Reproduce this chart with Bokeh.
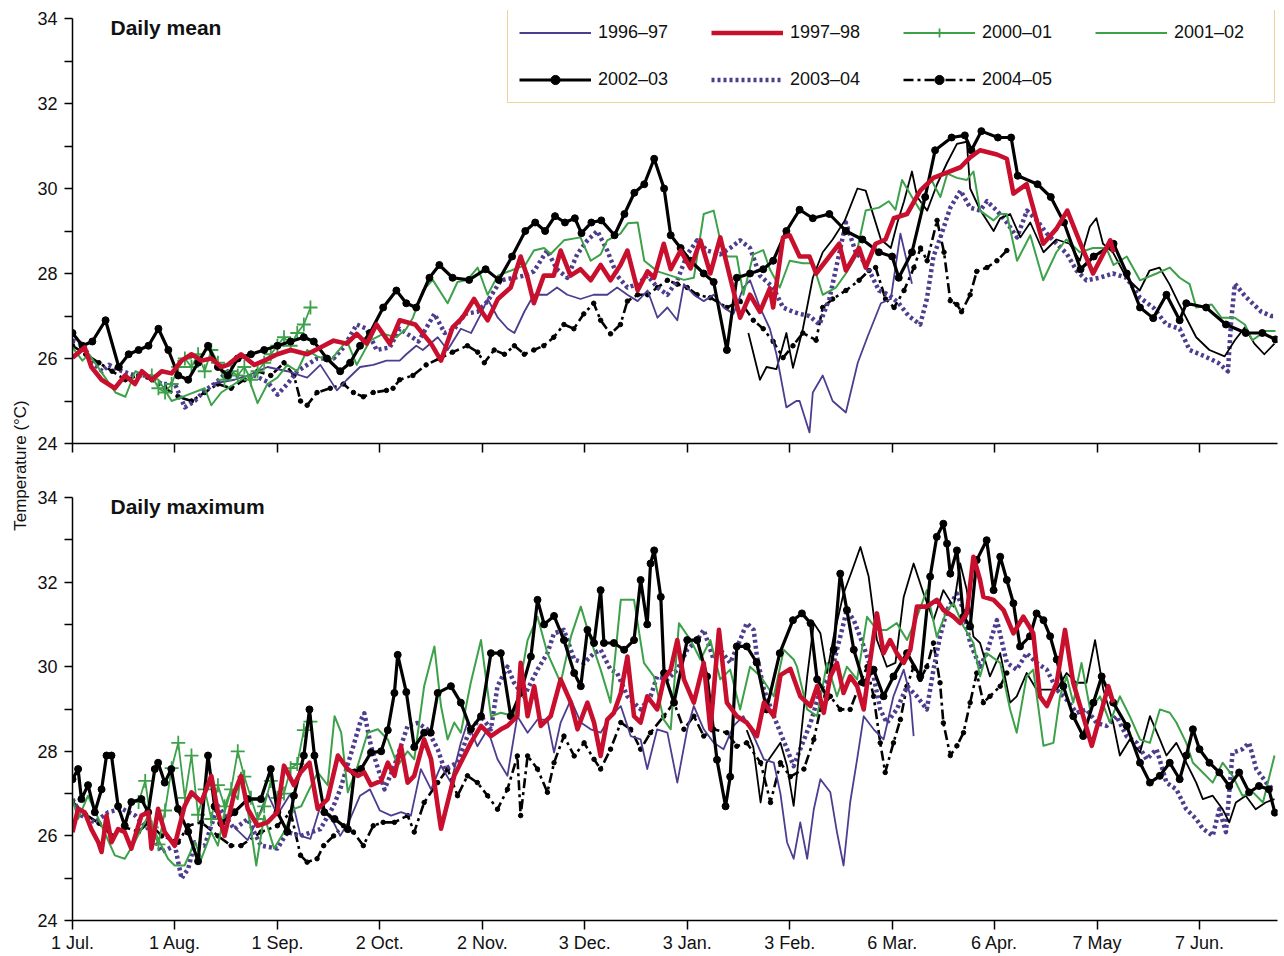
import math
from bokeh.plotting import figure
from bokeh.models import Range1d, FixedTicker, Legend, LegendItem, Label
from bokeh.layouts import row, column
from bokeh.embed import file_html
from bokeh.resources import INLINE

# ---------------- data (day since 1 Jul, temperature °C) ----------------
TICK_DAYS = [0, 31, 62, 93, 124, 155, 186, 217, 248, 279, 310, 341]
TICK_LABELS = ["1 Jul.", "1 Aug.", "1 Sep.", "2 Oct.", "2 Nov.", "3 Dec.",
               "3 Jan.", "3 Feb.", "6 Mar.", "6 Apr.", "7 May", "7 Jun."]
Y_TICKS = [24, 26, 28, 30, 32, 34]
Y_MINOR = [25, 27, 29, 31, 33]
SERIES = ["1996–97", "1997–98", "2000–01", "2001–02", "2002–03", "2003–04", "2004–05"]

# ---- Daily mean ----
MEAN_1996_97 = [(42,25.4),(49,25.5),(53,25.6),(59,25.8),(65,25.7),(71,25.55),(75,25.85),(80,25.25),(83,25.5),(87,25.8),(91,25.85),(95,25.95),(99,25.95),(101,26.1),(104,26.3),(106,26.2),(110.5,26.5),(113.5,26.2),(117.5,26.7),(120.6,26.6),(123.6,27.05),(125.6,27.4),(128.7,26.96),(131.7,26.7),(133.7,26.6),(136.7,27.1),(139.6,27.5),(143.6,27.5),(146.6,27.67),(149.7,27.5),(153.7,27.4),(157.7,27.5),(161.8,27.5),(164.8,27.67),(167.9,27.5),(171,27.35),(174,27.6),(177,26.96),(180,27.2),(183,26.9),(185,27.75),(188,27.5),(191,27.35),(194,27.5),(197,27.2),(200,27.05),(203,27.67),(205,27.84),(208,27.2),(211,26.7),(213,26.1),(216,24.85),(219,25.0),(220,25.0),(223,24.26),(224,25.2),(227,25.6),(230,25.0),(234,24.73),(237.6,25.9),(240.5,26.5),(244.6,27.3),(247.6,27.4),(250.5,28.94),(254,27.76)]
MEAN_1997_98 = [(0,26.02),(3.7,26.26),(5.7,25.8),(8.8,25.5),(12.8,25.3),(15.9,25.6),(18.9,25.4),(21,25.7),(24,25.5),(27,25.7),(30,25.65),(33,25.95),(36,26.1),(39,25.95),(42,26.0),(45,25.8),(47,25.85),(51,26.1),(55,25.85),(58,25.95),(62,26.1),(66,26.2),(71,26.1),(75,26.26),(79,26.42),(83,26.35),(86,26.58),(89,26.35),(92,26.8),(96,26.35),(99,26.9),(103.7,26.8),(108.5,26.35),(111.5,25.95),(115,26.73),(118,26.96),(121.5,27.4),(123,27.2),(125.6,26.9),(128.7,27.4),(132.6,27.67),(135.6,28.4),(137.7,27.9),(139.6,27.3),(142.6,27.95),(145.6,27.95),(147.7,28.54),(150.7,27.95),(153.7,28.1),(156.8,27.84),(159.8,28.2),(162.8,27.84),(165.8,28.2),(167.9,28.54),(171,27.6),(174,28.05),(176,27.9),(178.9,28.7),(181,28.1),(184,28.54),(187,28.12),(190,28.78),(193,28.0),(196,28.85),(199,27.9),(202,26.96),(205,27.5),(208,27.1),(211,27.65),(212,27.2),(215,28.85),(217,28.9),(220,28.4),(223,28.4),(225,28.0),(229,28.4),(232,28.7),(234,28.07),(238,28.6),(240,28.14),(243,28.7),(246,28.8),(248.5,29.3),(252.5,29.4),(256.5,29.95),(260.5,30.25),(264.7,30.38),(268.7,30.5),(271.6,30.73),(274.6,30.9),(279.7,30.8),(282.7,30.7),(284.7,29.88),(288.7,30.1),(293.7,28.7),(297.7,29.05),(301,29.48),(305,28.7),(308.8,28.0),(314,28.78),(315,28.5)]
MEAN_2000_01 = [(24,25.6),(26,25.3),(28,25.2),(30,25.4),(32,25.8),(34,26.0),(36,25.8),(38,26.1),(40,25.7),(42,26.2),(44,25.9),(46,25.5),(48,25.7),(50,25.6),(52,25.8),(54,25.5),(56,25.7),(58,25.9),(60,26.1),(62,26.3),(64,26.5),(66,26.3),(68,26.6),(70,26.8),(72,27.2)]
MEAN_2001_02 = [(0,26.26),(3,25.95),(5,26.1),(9,25.65),(13,25.2),(16,25.1),(19,25.7),(22,25.6),(26,25.5),(30,25.0),(35,25.15),(40,25.3),(42,24.9),(45,25.2),(49,25.4),(53,25.6),(56,24.95),(59,25.4),(62,25.55),(65,25.85),(68,25.7),(71,26.2),(74,26.05),(78,25.95),(83,26.42),(86,25.85),(90,26.42),(94,26.58),(98,26.5),(101,26.7),(103,26.96),(106,27.6),(109,27.85),(113.5,27.3),(116.5,27.8),(119.5,27.85),(122.6,28.14),(125.6,27.5),(128.7,27.95),(133.7,28.1),(137,28.2),(139.6,28.54),(142.7,28.6),(144.7,28.46),(148.7,28.78),(153.7,28.85),(156.8,28.3),(159.8,28.45),(161.8,28.78),(165.8,28.94),(168,29.18),(171,29.2),(173,28.3),(177,28.05),(181,27.95),(185,27.85),(188,27.9),(191,29.4),(194,29.48),(196,28.78),(198,28.4),(201,28.4),(203,27.5),(206,28.45),(209,28.55),(211,28.1),(214,27.67),(217,28.3),(221,28.24),(224,28.24),(227,27.5),(231,27.67),(234,28.0),(237,28.4),(240,29.48),(244,29.55),(247,29.7),(249,29.5),(251,30.2),(254,29.8),(256.5,29.48),(259.5,30.26),(262.6,29.8),(264.7,30.35),(267.6,30.25),(270.6,30.2),(272.6,30.4),(274.6,29.48),(278.7,29.25),(280.7,29.4),(282.7,29.4),(285.8,28.3),(289.8,28.9),(293.7,27.84),(297.7,28.5),(300.7,28.8),(304.8,28.5),(308.8,28.6),(312.8,28.6),(315,28.2),(319,28.4),(323,27.84),(328,28.0),(332,28.14),(335,27.9),(338,27.75),(340,27.2),(344.7,27.27),(347.6,26.96),(351.7,26.96),(354.7,26.8),(357,26.43),(361,26.65),(364,26.65)]
MEAN_2002_03 = [(0,26.6),(3,26.3),(6,26.4),(10,26.9),(14,25.8),(17,26.1),(20,26.2),(23,26.3),(26,26.7),(29,26.2),(32,25.6),(35,25.5),(38,25.9),(41,26.3),(44,25.8),(47,25.6),(50,26.0),(54,26.1),(58,26.2),(62,26.3),(66,26.4),(70,26.5),(73,26.4),(77,26.0),(81,25.7),(84,25.9),(87,26.3),(90,26.6),(94,27.2),(98,27.6),(101,27.3),(104,27.2),(108,27.9),(111,28.2),(115,27.9),(120,27.85),(125,28.1),(129,27.85),(133,28.4),(137,29.0),(140,29.2),(143,29.0),(146,29.35),(149,29.2),(152,29.3),(154,28.95),(157,29.2),(160,29.25),(164,28.9),(167,29.4),(170,29.9),(173,30.1),(176,30.7),(179,30.0),(181,28.9),(184,28.6),(187,28.3),(191,28.0),(194,27.8),(198,26.2),(201,27.9),(205,28.0),(209,28.1),(212,28.3),(216,29.0),(220,29.5),(224,29.3),(229,29.4),(234,29.0),(239,28.8),(244,28.5),(248,28.4),(250,27.9),(254,28.5),(258,29.8),(261,30.9),(266,31.2),(270,31.25),(272,30.9),(275,31.35),(280,31.2),(284,31.2),(286,30.3),(292,30.1),(296,29.8),(300,29.2),(305,28.1),(309,28.4),(315,28.7),(319,28.0),(323,27.2),(327,26.95),(331,27.5),(335,26.9),(337,27.3),(343,27.2),(349,26.8),(355,26.6),(360,26.6),(364,26.45)]
MEAN_2003_04 = [(0,26.42),(3,26.35),(6,25.9),(9,25.7),(11,25.85),(15,25.7),(19,25.6),(23,25.6),(27,25.4),(31,25.4),(34,24.85),(37,25.0),(40,25.25),(43,25.4),(47,25.7),(51,25.55),(55,25.6),(59,25.45),(62,25.15),(65,25.4),(68,25.7),(71,25.85),(74,26.0),(79,26.0),(82,26.26),(86,26.8),(89,26.7),(92,26.2),(96,26.26),(99,26.7),(104.7,26.4),(109.5,27.05),(112.6,26.6),(115.6,26.7),(118.6,27.05),(122.6,27.1),(125.6,27.35),(129.6,27.84),(133.7,27.9),(136.7,27.95),(139.6,28.05),(143.6,28.54),(146.6,28.1),(149.7,27.9),(152.7,28.45),(155.8,28.78),(158.8,29.0),(161.8,28.54),(164.8,27.95),(167.9,27.67),(171,27.75),(174,27.95),(177,27.67),(180,27.5),(183,27.84),(186,28.45),(189,28.78),(192,28.54),(196,28.45),(199,28.6),(202,28.78),(205,28.6),(208,27.95),(212,27.67),(215,27.2),(218,27.1),(220,27.05),(223,27.0),(226,26.8),(229,27.4),(232,28.47),(234,29.2),(237,28.5),(240,28.24),(244,27.6),(247,27.5),(250,27.3),(253,27.0),(256.5,26.8),(258.5,27.4),(260.5,28.4),(262.6,28.85),(265.6,29.55),(268.7,29.95),(271.6,29.55),(274.6,29.48),(276.7,29.7),(279.7,29.48),(282.7,29.2),(285.8,28.85),(288.8,29.48),(291.8,29.25),(294.8,28.94),(297.8,28.7),(300.8,28.47),(303.8,28.07),(306.8,27.84),(310.8,27.9),(314.8,28.0),(318.9,27.9),(323,27.43),(327,27.2),(331,26.8),(335,26.7),(338,26.2),(342.6,26.05),(346.6,25.9),(349.6,25.7),(350.6,26.9),(351.7,27.76),(355,27.45),(359.7,27.1),(362.7,27.0),(364,27.0)]
MEAN_2004_05 = [(0,26.3),(4,26.1),(8,25.9),(12,25.7),(16,25.5),(20,25.6),(24,25.5),(28,25.3),(32,25.1),(36,25.0),(40,25.2),(44,25.4),(48,25.3),(52,25.5),(56,25.7),(60,25.6),(64,25.9),(67,25.6),(69,25.0),(71,24.9),(74,25.2),(78,25.3),(82,25.4),(85,25.2),(88,25.1),(91,25.2),(95,25.25),(97,25.3),(99,25.5),(103,25.6),(107,25.85),(111,26.0),(115,26.15),(119.5,26.3),(122.6,26.15),(124.6,25.9),(127.6,26.2),(130.7,26.1),(133.7,26.3),(136.7,26.1),(139.6,26.2),(142.6,26.3),(145.6,26.5),(148.7,26.8),(151.7,26.7),(154.7,27.05),(157.7,27.3),(159.8,26.9),(162.8,26.58),(165.8,26.8),(167.9,27.35),(171,27.5),(174,27.5),(177,27.67),(180,27.84),(183,27.75),(186,27.67),(189,27.5),(193,27.43),(198,27.2),(202,27.35),(206,26.9),(209,26.7),(212,26.4),(215,26.02),(218,26.3),(221,26.6),(225,26.43),(227,27.2),(230,27.4),(234,27.6),(238,27.84),(241,28.07),(243,28.14),(246,27.4),(248.6,27.2),(251.6,27.6),(254.6,28.14),(256.6,28.6),(258.6,28.3),(261.6,29.25),(263.7,28.5),(265.6,27.36),(267.6,27.27),(269,27.1),(271.6,27.5),(273.6,28.05),(276.7,28.14),(279.7,28.3),(282.7,28.54)]
MEAN_UNLABELED = [(204.5,26.6),(208,25.5),(210,25.8),(213,25.75),(216,26.6),(218,25.78),(221,26.7),(224,27.9),(227,28.5),(230,28.8),(233.7,29.25),(237.5,30.0),(240,29.95),(241.6,29.55),(244.6,28.8),(247.6,28.6),(249.6,29.2),(251.6,29.7),(254,30.4),(255.6,29.8),(258.6,29.48),(261.6,30.1),(264.6,30.6),(267.6,31.05),(270.6,31.1),(271.6,30.0),(274.6,29.5),(278.7,29.0),(280.7,29.3),(283.7,29.4),(286.8,28.85),(289.8,29.2),(293.8,28.5),(297.7,28.8),(301.7,28.7),(304.8,28.3),(307.8,29.1),(309.8,29.3),(311.8,28.7),(314.8,28.5),(318.9,27.9),(322.9,27.6),(325.9,28.07),(328.9,28.14),(331.9,27.75),(334.9,27.27),(340,26.5),(344,26.2),(348.6,26.05),(351.7,26.43),(354.7,26.73),(357.6,26.35),(360.6,26.1),(363.7,26.35)]

# ---- Daily maximum ----
MAX_1996_97 = [(49,26.2),(53,25.9),(56,26.4),(59,27.0),(62,26.5),(66,27.0),(69,26.0),(72,25.93),(75,26.7),(79,26.32),(81,26.0),(84,26.4),(87,26.95),(90,27.1),(93,26.6),(96.4,26.48),(99.4,26.56),(102.4,26.48),(105.4,27.58),(108.5,27.1),(111.5,27.66),(114.5,27.26),(117.5,28.2),(119.5,28.68),(122.5,28.12),(125.6,28.52),(128.6,27.81),(131.6,27.42),(134.6,28.83),(137.7,28.44),(140.7,28.75),(143.7,28.75),(145.7,27.97),(147.7,28.68),(150.8,29.22),(153.8,28.68),(156.8,28.52),(159.8,28.44),(162.8,28.83),(165.9,29.07),(168.9,28.36),(171.9,28.28),(173.9,27.58),(176.9,28.52),(180,28.44),(183,27.26),(186,28.52),(188,29.07),(191,28.52),(194,28.2),(197,28.05),(200,28.6),(203,28.83),(206.1,28.36),(209.2,27.81),(212.2,27.73),(214.2,27.0),(216.2,25.85),(218.2,25.46),(220.2,26.32),(222.3,25.46),(224.3,26.63),(226.3,27.34),(229.3,27.03),(231.3,26.09),(233.3,25.3),(235.3,26.79),(237.4,27.81),(239.4,28.83),(242.4,28.52),(245.4,28.28),(248.4,29.3),(251.5,29.93),(253.5,29.3),(254.5,28.36)]
MAX_1997_98 = [(0,26.09),(1.7,26.64),(3.7,26.56),(5.7,26.16),(7.8,25.85),(8.8,25.62),(10.3,26.48),(11.8,25.85),(13.8,26.16),(15.8,26.09),(17.8,25.7),(20.85,26.48),(22.9,26.56),(23.9,25.7),(25.9,26.64),(27.9,26.09),(30.9,25.77),(33.9,26.7),(36,27.03),(39,26.8),(42,27.42),(44,26.56),(46,26.0),(49,27.03),(51,27.42),(53,26.64),(56,26.24),(59,26.32),(62,26.56),(64,27.66),(67,27.2),(69,27.5),(71.7,27.73),(74.2,26.64),(77.2,26.87),(80.3,27.9),(83.3,27.58),(86.3,27.42),(88.3,27.5),(90.3,27.2),(93.4,27.3),(95.4,27.73),(97.4,27.42),(99.4,28.12),(101.4,27.26),(103.4,27.42),(106.4,28.28),(108.5,27.81),(110.5,26.7),(111.5,26.17),(113.5,26.79),(115.5,27.42),(118.5,27.89),(120.5,28.2),(123.6,28.6),(126.6,28.36),(129.6,28.52),(131.6,28.6),(134.6,28.83),(135.6,30.09),(137.7,28.83),(139.7,29.54),(141.7,28.6),(144.7,28.83),(147.7,29.7),(150.8,29.15),(152.8,28.52),(155.8,29.15),(157.8,28.68),(159.8,27.89),(161.8,28.75),(163.8,28.91),(165.9,29.38),(167.9,30.24),(169.9,28.83),(171.9,28.68),(173.9,29.3),(176.9,28.99),(178.9,29.7),(181,29.93),(183,30.63),(185,29.7),(188,29.15),(191,30.09),(193,28.52),(195.6,30.87),(198,29.15),(201,28.83),(204,28.68),(207.1,28.36),(209.2,29.15),(212.2,28.83),(214.2,29.8),(217.2,29.95),(220.2,29.3),(223.3,29.07),(225.3,29.54),(227.3,28.91),(229.3,29.77),(231.3,30.09),(233.3,29.38),(235.3,29.77),(237.4,29.54),(239.4,28.99),(241.4,30.17),(243.4,31.26),(245.4,30.32),(247.4,30.63),(249.4,30.32),(251.5,30.09),(253.5,30.4),(255.5,31.42),(258.5,31.42),(261.5,31.58),(263.5,31.34),(266.6,31.18),(268.6,31.03),(270.6,31.26),(272.6,32.6),(274.6,32.05),(275.6,31.65),(278.7,31.58),(281.7,31.34),(284.7,30.79),(287.7,31.18),(290.7,30.79),(292.7,29.3),(294.8,29.07),(297.8,29.62),(300.3,30.87),(302.8,29.62),(305.8,28.83),(308.4,28.13),(310.9,28.83),(313.4,29.54),(314.9,29.15)]
MAX_2000_01 = [(20,26.8),(22,27.3),(24,26.2),(26,25.8),(28,26.6),(30,27.6),(32,28.2),(34,26.9),(36,27.9),(38,26.5),(40,27.1),(42,26.4),(44,27.2),(46,26.7),(48,27.1),(50,28.0),(52,27.4),(54,26.9),(56,26.4),(58,26.7),(60,27.3),(62,26.9),(64,27.0),(66,27.6),(68,27.7),(70,28.5),(72,28.7)]
MAX_2001_02 = [(0,26.87),(1.7,26.4),(4.7,26.95),(8.8,26.24),(12.8,25.54),(15.8,25.46),(18.8,25.85),(22.9,26.48),(25.9,25.93),(28.9,25.46),(30.9,25.3),(33.9,25.3),(37,25.85),(39,25.46),(42,26.09),(44,25.77),(46,26.56),(48,27.1),(50,26.87),(51,27.5),(54,26.16),(55.6,25.3),(58,26.48),(61,25.7),(64,26.09),(67,26.64),(69.2,26.7),(71.2,27.03),(74.2,27.5),(77.2,27.2),(79.3,28.83),(81.3,28.44),(83.3,27.03),(86.3,27.66),(89.3,28.44),(92.4,28.52),(95.4,28.28),(98.4,27.66),(101.4,28.0),(103.4,27.81),(106.4,29.54),(109.5,30.48),(111.5,29.07),(113.5,28.28),(115.5,28.68),(117.5,28.44),(120.5,29.62),(123.6,30.63),(126.6,28.83),(129.6,28.91),(133.6,28.83),(137.7,30.63),(140.7,31.18),(143.7,30.32),(147.7,29.62),(150.8,30.71),(153.8,31.42),(156.8,30.63),(159.8,29.93),(162.8,29.15),(165.9,31.58),(169.9,31.58),(172.9,30.09),(175.9,29.77),(178.9,28.75),(181,28.52),(183.5,31.03),(187,30.63),(190,30.17),(193,30.63),(196,29.7),(199,29.93),(202,28.99),(205,30.0),(208.2,29.77),(212.2,29.3),(215.2,30.4),(218.2,30.17),(219.2,30.0),(222.3,28.99),(225.3,28.83),(228.3,30.09),(231.3,29.3),(234.3,30.0),(237.4,29.7),(240.4,31.18),(243.4,30.87),(246.4,30.87),(249.4,31.03),(252.5,30.63),(255.5,31.18),(258.5,31.81),(261.5,30.71),(264.6,31.34),(266.6,31.5),(269.6,30.95),(272.6,30.56),(274.6,29.77),(276.6,30.32),(280.7,30.09),(283.7,28.99),(285.7,28.44),(288.7,29.77),(290.7,29.93),(293.8,28.13),(296.8,28.2),(298.8,29.3),(300.8,29.77),(302.8,29.15),(305.3,30.09),(307.9,28.99),(310.9,29.3),(313.9,28.68),(316.9,29.3),(319.9,28.83),(323,28.28),(326,28.2),(329,28.99),(332,28.91),(334,28.68),(337,28.2),(339,27.73),(342,27.5),(345,27.26),(348,27.73),(351,27.42),(354,26.95),(357.2,27.03),(360.2,26.79),(363.7,27.9)]
MAX_2002_03 = [(0,27.34),(1.7,27.58),(2.7,26.87),(4.7,27.2),(6.75,26.56),(8.8,27.1),(10.3,27.9),(11.8,27.9),(13.8,26.7),(15.8,26.24),(17.8,26.8),(20.85,26.87),(22.9,26.56),(24.9,27.58),(25.9,27.73),(27.9,27.26),(29.9,27.58),(31.9,26.64),(35,26.1),(38,25.4),(41,27.9),(43,26.7),(45,26.3),(49,26.56),(53,26.87),(57,26.87),(60,27.58),(62,26.56),(65,26.1),(67,26.95),(70,27.9),(71.7,28.99),(73.2,27.9),(76.2,26.56),(79.3,26.4),(83.3,26.16),(85.3,27.5),(87.3,27.58),(90.3,27.97),(93.4,28.0),(95.4,28.5),(97.4,29.38),(98.4,30.28),(101,29.4),(103.4,28.1),(106.4,28.44),(108.4,28.44),(110.5,29.38),(114.5,29.54),(117.5,29.15),(120.5,28.52),(123.6,28.83),(126.6,30.32),(129.6,30.32),(132.6,28.83),(135.6,29.38),(138.7,30.24),(140.7,31.58),(142.7,31.0),(145.7,31.2),(148.7,30.63),(151.8,29.85),(153.8,29.54),(155.8,30.87),(157.8,30.56),(159.8,31.81),(160.8,30.56),(163.8,30.56),(166.9,30.4),(169.9,30.63),(171.9,32.05),(173.9,31.0),(174.9,32.44),(176,32.75),(178,31.65),(179,29.85),(182,29.15),(186,30.63),(189,30.63),(192,29.77),(195,27.8),(197.6,26.7),(199,27.4),(201,30.48),(204,30.48),(207,30.1),(210,28.99),(214,30.32),(218,31.1),(220.7,31.26),(223.3,31.03),(225.3,29.7),(228.3,29.3),(230.3,30.4),(232.3,32.2),(234.3,31.34),(236.4,30.4),(239.4,29.62),(242.4,29.93),(245.4,29.3),(248.4,29.77),(252.5,30.32),(256.5,29.77),(259.5,32.13),(261.5,33.07),(263.5,33.38),(264.6,32.91),(265.6,32.2),(267.6,32.75),(269.6,31.18),(271.6,30.95),(273.6,32.52),(276.6,32.99),(278.7,31.81),(280.7,32.6),(282.7,32.05),(284.7,31.5),(286.7,30.48),(289.7,30.72),(291.7,31.26),(293.8,31.1),(295.8,30.72),(297.8,30.17),(299.8,29.54),(302.8,28.83),(305.8,28.36),(308.9,29.15),(311.4,29.77),(314.9,29.15),(319,28.6),(323,27.73),(326,27.26),(329,27.42),(332,27.73),(335,27.34),(337,27.9),(339,28.52),(341,28.05),(344,27.73),(347,27.5),(350,27.18),(353,27.5),(356,27.03),(359,27.18),(362,27.1),(363.8,26.55)]
MAX_2003_04 = [(0,26.87),(2.7,26.48),(6.75,26.32),(10.8,26.56),(15,26.64),(19,26.48),(23,26.16),(27,25.62),(31,25.77),(33,24.99),(35,25.22),(37,25.85),(40,25.77),(44,26.71),(49,26.16),(53,26.4),(57,25.77),(62,25.7),(65,26.09),(69,26.0),(75,26.16),(79,26.71),(81,27.1),(85,28.13),(87.3,28.75),(88.3,28.9),(90.3,28.13),(94.4,27.1),(97.4,27.66),(101.4,28.6),(104.4,28.67),(107.4,28.52),(110.5,28.05),(112.5,27.58),(116.5,27.73),(119.5,28.36),(123.6,28.83),(126.6,28.52),(128.6,29.54),(131.6,30.0),(133.6,29.62),(136.6,29.3),(140.7,29.93),(143.7,30.32),(145.7,30.79),(148.7,30.87),(151.8,30.17),(154.8,30.09),(157.8,30.32),(159.8,30.4),(162.8,29.93),(164.8,29.85),(167.9,29.3),(171.9,28.99),(174.9,29.3),(176.9,29.77),(180,29.7),(183,29.93),(186,30.4),(189,30.63),(191,30.87),(194,30.17),(196,30.4),(199,30.09),(202,30.63),(204,31.03),(206.1,30.87),(207.1,30.24),(209.2,29.46),(212.2,28.83),(216.2,28.05),(218.2,27.65),(220.2,28.05),(223.3,28.67),(226.3,29.46),(229.3,29.77),(232.3,30.71),(234.3,31.34),(236.4,31.1),(239.4,30.48),(242.4,29.77),(244.4,28.99),(246.4,28.67),(249.4,28.99),(252.5,29.54),(255.5,29.3),(258.5,28.99),(260.5,29.93),(262.5,30.71),(264.6,31.34),(267.6,31.73),(269.6,31.34),(271.6,30.56),(274.6,30.0),(276.6,30.32),(279.7,31.1),(282.7,30.09),(285.7,29.93),(288.7,30.32),(291.7,30.09),(294.8,29.93),(297.8,29.46),(300.8,29.22),(303.8,28.91),(306.8,28.99),(309.9,28.67),(312.9,28.6),(315.9,28.83),(318.9,28.36),(322,28.2),(325,27.81),(328,28.05),(331,27.26),(334,27.1),(337,26.63),(340,26.4),(342,26.17),(345,26.0),(347,26.63),(349,26.09),(351,27.97),(354,28.05),(356,28.2),(358.2,27.58),(361.2,27.26),(363.2,27.1)]
MAX_2004_05 = [(0,26.8),(4,26.5),(8,26.3),(12,26.0),(16,26.2),(20,26.1),(23,26.32),(27,26.0),(32,25.85),(35,26.24),(39,26.32),(44,26.0),(48,25.77),(51,25.77),(57,26.09),(62,26.24),(66,26.56),(69,25.54),(71,25.38),(74,25.46),(76,25.77),(79,26.0),(82,26.24),(85,26.09),(88,25.77),(91,26.24),(94,26.32),(97.4,26.32),(101.4,26.48),(103.4,26.09),(106.4,26.79),(110.5,27.26),(113.5,27.58),(116.5,26.95),(119.5,27.42),(122.5,27.26),(125.6,26.95),(128.6,26.63),(131.6,27.1),(134.6,27.89),(135.6,26.48),(137.7,27.89),(140.7,27.58),(143.7,27.03),(145.7,27.73),(148.7,28.36),(151.8,27.89),(154.8,28.2),(157.8,27.81),(159.8,27.58),(162.8,28.05),(165.9,28.68),(168.9,28.52),(171.9,28.05),(174.9,28.44),(178.9,28.83),(182,29.15),(185,28.52),(188,28.83),(191,28.36),(194,28.52),(198,28.44),(201,28.12),(204,28.2),(208.2,27.73),(211.2,26.79),(214.2,27.73),(217.2,27.4),(221.3,27.58),(224.3,28.28),(226.3,28.99),(229.3,29.3),(232.3,28.99),(235.3,28.99),(238.4,29.62),(240.4,30.0),(242.4,29.3),(244.4,28.2),(245.9,27.5),(248.4,28.2),(250.5,28.75),(252.5,29.54),(254.5,30.0),(256.5,29.7),(258.5,30.0),(260.5,30.56),(262.5,29.62),(263.5,28.67),(265.6,27.9),(267.6,28.13),(269.6,28.44),(271.6,29.15),(273.6,29.85),(275.6,29.15),(277.6,29.3),(280.7,29.54),(282.7,29.85)]
MAX_UNLABELED = [(204,28.5),(206,28.1),(208.2,26.79),(210,27.73),(214.2,28.2),(216.2,27.65),(218.2,26.71),(220.2,28.2),(222.3,29.77),(224.3,31.03),(226.3,30.79),(228.3,29.85),(230.3,30.71),(233.3,31.73),(235.9,32.28),(238.4,32.83),(240.9,32.13),(243.4,30.63),(246.4,30.0),(249,30.09),(251.5,31.65),(254.5,32.44),(257.5,31.73),(260.5,31.1),(263.5,31.81),(266.6,31.42),(268.6,32.44),(270.6,31.81),(272.6,30.71),(274.6,30.56),(277.6,29.77),(280.7,30.32),(283.7,29.15),(285.7,29.3),(288.7,29.85),(291.7,29.46),(294.8,29.46),(297.8,29.46),(300.8,29.85),(303.8,29.62),(306.8,29.62),(309.4,30.63),(311.9,29.46),(314.9,28.67),(316.9,27.9),(319.9,28.28),(323,27.97),(326,28.83),(329,28.28),(331,27.9),(334,28.2),(337,27.73),(340,27.26),(342,26.87),(345,26.95),(348,26.63),(350,26.32),(352,26.79),(355,26.95),(358,26.63),(361,26.79),(363.7,26.87)]

# ---------------- styling ----------------
FONT = "Liberation Sans"
PURPLE = "#4E3D8E"
RED = "#C8102E"
GREEN = "#3DA14A"
BLACK = "#000000"

STYLE = {
    "1996–97": dict(color=PURPLE, width=1.8, dash="solid", marker=None),
    "1997–98": dict(color=RED, width=4.6, dash="solid", marker=None),
    "2000–01": dict(color=GREEN, width=1.8, dash="solid", marker=("cross", 14, 1.8)),
    "2001–02": dict(color=GREEN, width=2.0, dash="solid", marker=None),
    "2002–03": dict(color=BLACK, width=3.2, dash="solid", marker=("circle", 7, 1)),
    "2003–04": dict(color=PURPLE, width=4.5, dash="3 3", marker=None),
    "2004–05": dict(color=BLACK, width=2.6, dash="10 4 3 4", marker=("circle", 4.5, 1)),
    "other": dict(color=BLACK, width=1.8, dash="solid", marker=None),
}
DRAW_ORDER = ["2004–05", "2003–04", "other", "1996–97", "2001–02", "2000–01", "2002–03", "1997–98"]

MEAN = {"1996–97": MEAN_1996_97, "1997–98": MEAN_1997_98, "2000–01": MEAN_2000_01,
        "2001–02": MEAN_2001_02, "2002–03": MEAN_2002_03, "2003–04": MEAN_2003_04,
        "2004–05": MEAN_2004_05, "other": MEAN_UNLABELED}
MAXI = {"1996–97": MAX_1996_97, "1997–98": MAX_1997_98, "2000–01": MAX_2000_01,
        "2001–02": MAX_2001_02, "2002–03": MAX_2002_03, "2003–04": MAX_2003_04,
        "2004–05": MAX_2004_05, "other": MAX_UNLABELED}

X_RANGE = Range1d(0, 364.6)
TXT = "#111111"
PX_PER_DEG = 42.5


def make_panel(title, data, height, mb_top, mb_bottom, show_labels, y_end):
    p = figure(width=1250, height=height, x_range=X_RANGE, y_range=Range1d(24, y_end),
               toolbar_location=None, output_backend="svg",
               min_border_left=37, min_border_right=7,
               min_border_top=mb_top, min_border_bottom=mb_bottom)
    p.outline_line_color = None
    p.xgrid.visible = False
    p.ygrid.visible = False
    p.background_fill_color = "white"
    p.border_fill_color = "white"

    renderers = {}
    for key in DRAW_ORDER:
        st = STYLE[key]
        xs = [d for d, _ in data[key]]
        ys = [v for _, v in data[key]]
        rl = p.line(xs, ys, line_color=st["color"], line_width=st["width"],
                    line_dash=st["dash"], line_join="round")
        rs = [rl]
        if st["marker"]:
            m, size, lw = st["marker"]
            if m == "cross":
                r2 = p.scatter(xs, ys, marker="cross", size=size, line_color=st["color"],
                               line_width=lw)
            else:
                r2 = p.scatter(xs, ys, marker="circle", size=size, fill_color=st["color"],
                               line_color=st["color"], line_width=lw)
            rs.append(r2)
        renderers[key] = rs

    ya = p.yaxis[0]
    ya.ticker = FixedTicker(ticks=Y_TICKS, minor_ticks=Y_MINOR)
    ya.bounds = (24, 34)
    ya.axis_line_width = 1.5
    ya.major_tick_line_width = 1.5
    ya.minor_tick_line_width = 1.5
    ya.major_tick_in = 0
    ya.major_tick_out = 8
    ya.minor_tick_in = 0
    ya.minor_tick_out = 8
    ya.major_label_standoff = 7
    ya.major_label_text_font = FONT
    ya.major_label_text_font_size = "18px"
    ya.major_label_text_color = TXT

    xa = p.xaxis[0]
    xa.ticker = FixedTicker(ticks=TICK_DAYS, minor_ticks=[])
    xa.axis_line_width = 1.5
    xa.major_tick_line_width = 1.5
    xa.major_tick_in = 0
    xa.major_tick_out = 9
    xa.minor_tick_out = 0
    xa.major_label_text_font = FONT
    xa.major_label_text_font_size = "18px"
    xa.major_label_text_color = TXT
    if show_labels:
        xa.major_label_overrides = {d: lab for d, lab in zip(TICK_DAYS, TICK_LABELS)}
        xa.major_label_standoff = 3
    else:
        xa.major_label_overrides = {d: "" for d in TICK_DAYS}
        xa.major_label_standoff = 0

    p.add_layout(Label(x=11.5, y=33.79, text=title, text_font=FONT, text_font_size="21px",
                       text_font_style="bold", text_baseline="middle", text_color=TXT))
    return p, renderers


# top panel frame is extended 8 px above 34 °C so the legend box is not clipped
top, top_r = make_panel("Daily mean", MEAN, 471, 10, 28, False, 34 + 8 / PX_PER_DEG)
bottom, _ = make_panel("Daily maximum", MAXI, 484, 26, 33, True, 34)

items = [LegendItem(label=name, renderers=top_r[name]) for name in SERIES]
legend = Legend(items=items, location=(435, 340), orientation="horizontal", ncols=4,
                glyph_width=72, glyph_height=23, label_height=23, label_width=89,
                label_standoff=7, spacing=24, padding=11, margin=0,
                label_text_font=FONT, label_text_font_size="18px", label_text_color=TXT,
                border_line_color="#E3A33A", border_line_width=1.3,
                background_fill_color="white", background_fill_alpha=1.0)
top.add_layout(legend)

TOTAL_H = 471 + 484
lab = figure(width=34, height=TOTAL_H, x_range=Range1d(0, 1), y_range=Range1d(0, 1),
             toolbar_location=None, output_backend="svg", min_border=0,
             x_axis_location=None, y_axis_location=None)
lab.grid.visible = False
lab.outline_line_color = None
lab.add_layout(Label(x=20 / 34, y=1 - 465 / TOTAL_H, text="Temperature (°C)", angle=math.pi / 2,
                     text_align="center", text_baseline="middle", text_font=FONT,
                     text_font_size="17px", text_color=TXT))

layout = row(lab, column(top, bottom))
open("out.html", "w").write(file_html(layout, INLINE))
